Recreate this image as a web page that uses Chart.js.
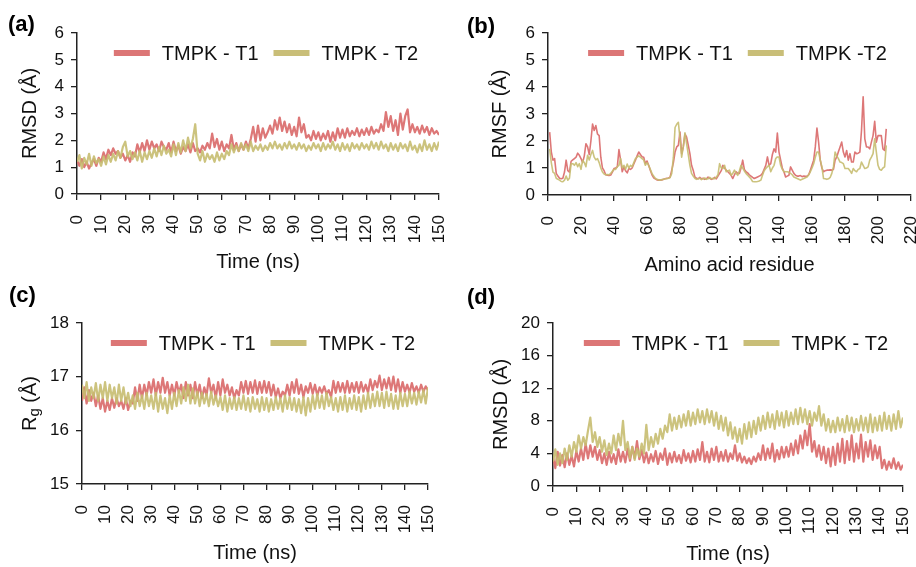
<!DOCTYPE html>
<html>
<head>
<meta charset="utf-8">
<script src="https://cdn.jsdelivr.net/npm/chart.js@4.4.1/dist/chart.umd.min.js"></script>
<style>
  html, body { margin: 0; padding: 0; background: #fff; }
  #wrap { position: relative; width: 916px; height: 567px; }
  canvas { position: absolute; }
</style>
</head>
<body>
<div id="wrap">
  <canvas id="panelA" width="458" height="283" style="left:0;top:0"></canvas>
  <canvas id="panelB" width="458" height="283" style="left:458px;top:0"></canvas>
  <canvas id="panelC" width="458" height="284" style="left:0;top:283px"></canvas>
  <canvas id="panelD" width="458" height="284" style="left:458px;top:283px"></canvas>
</div>
<script>
const FONT = '"Liberation Sans", Arial, sans-serif';
const RED = 'rgba(219,112,112,0.95)';
const OLIVE = 'rgba(198,188,112,0.9)';
const RED_KEY = '#dc7676';
const OLIVE_KEY = '#c9be78';

// time points, 1 ns apart
const timeNs = Array.from({ length: 151 }, (_, i) => i);
// residue numbers 1..205
const residues = Array.from({ length: 205 }, (_, i) => i + 1);

// (a) backbone RMSD (Å)
const rmsdT1 = [
  1.25, 1.05, 1.3, 1.0, 1.2, 0.95, 1.15, 1.3, 1.05, 1.35,
  1.2, 1.55, 1.3, 1.65, 1.45, 1.7, 1.5, 1.6, 1.35, 1.5,
  1.25, 1.45, 1.2, 1.55, 1.4, 1.85, 1.55, 1.9, 1.6, 2.0,
  1.65, 1.95, 1.7, 1.85, 1.6, 1.95, 1.75, 1.65, 1.9, 1.55,
  1.95, 1.6, 1.8, 1.5, 1.75, 1.6, 1.85, 1.55, 1.9, 1.6,
  1.7, 1.55, 1.8, 1.65, 1.9, 1.7, 2.25, 1.75, 2.05, 1.65,
  1.95, 1.6, 1.85, 1.7, 2.2, 1.65, 1.9, 1.6, 1.85, 1.65,
  1.95, 1.7, 2.05, 2.5, 1.95, 2.55, 2.0, 2.45, 2.1, 2.3,
  2.55, 2.25, 2.75, 2.4, 2.85, 2.35, 2.7, 2.3, 2.6, 2.2,
  2.5, 2.15, 2.85, 2.3, 2.6, 2.1, 2.2, 2.0, 2.35, 2.05,
  2.3, 2.0, 2.25, 2.05, 2.35, 1.95, 2.3, 2.0, 2.45, 2.1,
  2.4, 2.1, 2.45, 2.15, 2.35, 2.2, 2.45, 2.15, 2.4, 2.2,
  2.45, 2.2, 2.5, 2.25, 2.4, 2.3, 2.6, 2.35, 3.05, 2.5,
  2.9, 2.35, 2.75, 2.2, 3.0, 2.4, 2.9, 3.15, 2.3, 2.6,
  2.3, 2.5, 2.25, 2.55, 2.3, 2.5, 2.2, 2.45, 2.25, 2.35, 2.2
];
const rmsdT2 = [
  1.2, 1.45, 0.95, 1.35, 1.1, 1.5, 1.05, 1.4, 1.15, 1.3,
  1.05, 1.4, 1.1, 1.45, 1.2, 1.5, 1.25, 1.6, 1.35, 1.75,
  1.95, 1.4, 1.6, 1.3, 1.55, 1.25, 1.6, 1.2, 1.55, 1.3,
  1.6, 1.35, 1.7, 1.4, 1.75, 1.45, 1.8, 1.5, 1.65, 1.4,
  1.85, 1.45, 1.9, 1.55, 2.0, 1.6, 2.1, 1.7, 2.05, 2.6,
  1.5, 1.25, 1.6, 1.2, 1.5, 1.3, 1.45, 1.2, 1.55, 1.25,
  1.5, 1.3, 1.6, 1.45, 1.85, 1.55, 1.8, 1.6, 1.9, 1.65,
  1.85, 1.6, 1.95, 1.6, 1.8, 1.65, 1.85, 1.6, 1.8, 1.65,
  1.9, 1.7, 1.95, 1.7, 1.85, 1.65, 1.9, 1.7, 1.95, 1.7,
  1.85, 1.65, 1.9, 1.7, 1.85, 1.6, 1.8, 1.65, 1.9, 1.7,
  1.85, 1.6, 1.9, 1.65, 1.85, 1.7, 1.95, 1.65, 1.85, 1.6,
  1.9, 1.65, 1.85, 1.6, 1.9, 1.7, 1.85, 1.65, 1.9, 1.7,
  1.85, 1.65, 1.95, 1.7, 1.9, 1.65, 1.95, 1.7, 1.85, 1.6,
  1.9, 1.65, 1.85, 1.6, 1.9, 1.7, 1.85, 1.6, 1.95, 1.65,
  1.8, 1.55, 1.85, 1.6, 2.0, 1.65, 1.85, 1.6, 1.9, 1.65, 1.95
];

// (b) RMSF per residue (Å)
const rmsfT1 = [
  2.33, 1.6, 1.29, 1.35, 0.8, 0.7, 0.62, 0.6, 0.62, 0.85,
  1.29, 0.9, 0.85, 1.25, 1.3, 1.35, 1.4, 1.55, 1.47, 1.35,
  1.2, 1.45, 1.9, 1.78, 1.5, 2.0, 2.63, 2.39, 2.57, 2.26,
  2.2, 1.4, 1.0, 0.9, 0.75, 0.73, 0.72, 0.74, 0.85, 0.98,
  1.0, 1.04, 1.68, 1.29, 0.86, 1.04, 0.9, 0.82, 0.98, 0.95,
  1.0, 1.15, 1.29, 1.45, 1.59, 1.5, 1.42, 1.4, 1.16, 1.26,
  1.1, 0.92, 0.75, 0.64, 0.6, 0.56, 0.55, 0.55, 0.56, 0.58,
  0.6, 0.62, 0.63, 0.66, 0.92, 1.2, 1.59, 1.78, 1.84, 2.33,
  1.53, 1.78, 2.26, 2.14, 1.85, 1.53, 1.1, 0.92, 0.67, 0.62,
  0.6, 0.65, 0.6, 0.62, 0.58, 0.6, 0.66, 0.62, 0.58, 0.6,
  0.65, 0.6, 0.7, 0.8, 0.9, 1.1, 1.0, 0.92, 0.86, 0.8,
  0.73, 0.61, 0.75, 0.86, 0.8, 0.8, 1.0, 1.29, 0.95, 0.86,
  0.82, 0.75, 0.7, 0.65, 0.61, 0.64, 0.67, 0.7, 0.73, 0.8,
  0.95, 1.1, 1.41, 1.1, 1.16, 1.5, 1.71, 1.59, 2.29, 1.59,
  1.29, 1.0, 0.86, 0.67, 0.7, 0.73, 1.04, 0.92, 0.8, 0.73,
  0.7, 0.7, 0.72, 0.68, 0.7, 0.69, 0.7, 0.75, 0.92, 1.1,
  1.29, 1.78, 2.48, 1.96, 1.29, 1.0, 0.86, 0.9, 0.92, 0.92,
  0.93, 0.92, 0.95, 1.29, 1.41, 1.6, 1.78, 1.96, 1.59, 1.41,
  1.65, 1.29, 1.53, 1.22, 1.22, 1.59, 1.53, 1.55, 1.59, 2.39,
  3.64, 2.08, 1.78, 1.78, 1.71, 1.96, 2.2, 2.73, 1.96, 2.2,
  2.2, 2.2, 1.71, 1.65, 2.45
];
const rmsfT2 = [
  1.71, 1.2, 0.85, 0.8, 0.62, 0.58, 0.55, 0.5, 0.49, 0.55,
  0.7, 0.55, 0.62, 1.16, 1.16, 1.1, 1.2, 1.05, 1.16, 0.95,
  1.29, 1.2, 1.05, 1.47, 1.3, 1.5, 1.65, 1.4, 1.3, 1.35,
  1.2, 1.0, 0.85, 0.78, 0.75, 0.76, 0.75, 0.8, 0.88, 0.95,
  0.95, 1.05, 1.1, 1.35, 1.0, 1.1, 0.95, 1.15, 1.0, 1.1,
  1.05, 1.2, 1.35, 1.4, 1.45, 1.4, 1.35, 1.3, 1.1, 1.2,
  1.1, 0.95, 0.8, 0.7, 0.62, 0.58, 0.56, 0.55, 0.57, 0.58,
  0.6, 0.6, 0.62, 0.65, 0.8, 1.4, 2.5, 2.62, 2.69, 2.1,
  1.4, 1.8, 2.3, 1.9, 1.5, 1.1, 0.8, 0.7, 0.62, 0.58,
  0.6, 0.62, 0.57, 0.6, 0.63, 0.58, 0.6, 0.65, 0.6, 0.62,
  0.6, 0.66, 0.75, 1.16, 1.0, 0.98, 1.1, 0.86, 0.9, 0.92,
  0.73, 0.8, 0.92, 0.8, 0.73, 0.9, 1.1, 1.0, 0.89, 0.8,
  0.73, 0.67, 0.6, 0.5, 0.49, 0.49, 0.5, 0.52, 0.55, 0.73,
  0.9, 0.98, 1.05, 1.1, 0.86, 1.0, 1.1, 1.35, 1.41, 1.41,
  1.1, 0.95, 0.86, 0.86, 0.86, 0.84, 0.8, 0.75, 0.67, 0.64,
  0.61, 0.58, 0.55, 0.58, 0.61, 0.64, 0.67, 0.75, 0.86, 1.0,
  1.16, 1.4, 1.59, 1.59, 1.3, 1.04, 0.61, 0.6, 0.58, 0.6,
  0.65, 0.8, 1.04, 1.59, 1.45, 1.35, 1.22, 1.2, 1.16, 0.98,
  0.98, 0.98, 0.9, 0.8, 0.98, 0.9, 0.86, 0.95, 0.98, 1.22,
  1.1, 0.98, 1.0, 1.04, 1.29, 1.4, 1.53, 2.08, 1.59, 1.1,
  0.95, 0.92, 1.0, 1.04, 1.84
];

// (c) radius of gyration (Å)
const rgT1 = [
  16.55, 16.8, 16.5, 16.75, 16.55, 16.7, 16.45, 16.65, 16.4, 16.6,
  16.35, 16.55, 16.38, 16.6, 16.42, 16.6, 16.45, 16.55, 16.4, 16.6,
  16.38, 16.55, 16.5, 16.8, 16.55, 16.85, 16.6, 16.85, 16.65, 16.9,
  16.7, 16.95, 16.65, 16.9, 16.7, 16.98, 16.7, 16.9, 16.65, 16.85,
  16.65, 16.9, 16.7, 16.85, 16.6, 16.9, 16.65, 16.85, 16.6, 16.9,
  16.65, 16.85, 16.6, 16.8, 16.65, 16.97, 16.7, 16.85, 16.6, 16.9,
  16.65, 16.95, 16.7, 16.85, 16.65, 16.8, 16.6, 16.75, 16.65, 16.9,
  16.7, 16.92, 16.68, 16.9, 16.7, 16.93, 16.68, 16.9, 16.7, 16.92,
  16.7, 16.9, 16.65, 16.85, 16.62, 16.78, 16.6, 16.72, 16.65, 16.85,
  16.65, 16.9, 16.7, 16.95, 16.68, 16.85, 16.62, 16.82, 16.7, 16.88,
  16.68, 16.85, 16.65, 16.8, 16.7, 16.82, 16.68, 16.75, 16.62, 16.92,
  16.7, 16.9, 16.72, 16.88, 16.7, 16.92, 16.7, 16.88, 16.72, 16.9,
  16.7, 16.9, 16.72, 16.85, 16.7, 16.95, 16.75, 16.92, 16.8, 17.02,
  16.75, 16.95, 16.78, 16.98, 16.75, 17.0, 16.72, 16.95, 16.7, 16.9,
  16.72, 16.85, 16.7, 16.88, 16.72, 16.82, 16.7, 16.85, 16.72, 16.82, 16.75
];
const rgT2 = [
  16.85, 16.6, 16.9, 16.55, 16.8, 16.6, 16.88, 16.55, 16.85, 16.6,
  16.9, 16.55, 16.85, 16.6, 16.8, 16.5, 16.85, 16.55, 16.8, 16.5,
  16.7, 16.45, 16.65, 16.4, 16.7, 16.45, 16.65, 16.4, 16.7, 16.45,
  16.65, 16.4, 16.7, 16.35, 16.65, 16.4, 16.6, 16.32, 16.65, 16.4,
  16.7, 16.45, 16.75, 16.5, 16.8, 16.55, 16.85, 16.5, 16.78, 16.5,
  16.72, 16.45, 16.7, 16.5, 16.68, 16.45, 16.72, 16.48, 16.65, 16.45,
  16.62, 16.38, 16.65, 16.35, 16.6, 16.4, 16.62, 16.38, 16.6, 16.4,
  16.65, 16.38, 16.6, 16.35, 16.62, 16.4, 16.58, 16.35, 16.62, 16.38,
  16.6, 16.35, 16.58, 16.38, 16.62, 16.4, 16.6, 16.35, 16.65, 16.4,
  16.62, 16.38, 16.6, 16.35, 16.58, 16.32, 16.62, 16.28, 16.6, 16.35,
  16.65, 16.4, 16.68, 16.42, 16.65, 16.4, 16.7, 16.45, 16.62, 16.38,
  16.6, 16.35, 16.62, 16.38, 16.65, 16.35, 16.6, 16.4, 16.65, 16.38,
  16.62, 16.35, 16.65, 16.4, 16.7, 16.42, 16.68, 16.45, 16.72, 16.45,
  16.7, 16.42, 16.72, 16.45, 16.68, 16.4, 16.65, 16.4, 16.7, 16.45,
  16.68, 16.45, 16.72, 16.5, 16.7, 16.48, 16.72, 16.52, 16.75, 16.5, 16.8
];

// (d) ligand RMSD (Å)
const ligT1 = [
  3.5, 2.2, 4.2, 2.5, 3.8, 2.3, 4.0, 2.6, 3.7, 2.4,
  4.3, 3.0, 4.6, 3.2, 5.2, 3.4, 5.0, 3.6, 4.8, 3.2,
  4.4, 2.8, 4.0, 2.6, 4.2, 2.9, 3.9, 2.7, 4.5, 3.0,
  4.2, 2.9, 4.6, 3.1, 4.8, 3.4, 5.5, 3.3, 4.4, 2.9,
  4.1, 2.8, 3.9, 3.0, 4.3, 2.7, 4.0, 3.2, 4.6, 2.6,
  4.0, 2.9, 4.2, 3.0, 3.8, 2.8, 4.4, 3.1, 4.0, 2.9,
  4.3, 3.0, 4.5, 3.2, 5.4, 3.0, 4.2, 2.9, 4.6, 3.2,
  4.8, 3.0, 4.2, 3.1, 4.4, 3.0, 4.0, 3.3, 5.0, 3.1,
  4.0, 2.9, 3.6, 2.8, 3.4, 2.7, 3.6, 3.0, 4.0, 3.2,
  5.0, 3.2, 4.6, 3.4, 5.2, 3.0, 4.4, 3.3, 4.8, 3.5,
  4.8, 3.6, 5.2, 3.8, 5.6, 4.0, 6.2, 4.6, 6.8, 5.0,
  7.6, 4.2, 5.5, 3.6, 5.0, 3.2, 4.8, 2.8, 4.6, 2.4,
  4.8, 2.6, 5.2, 3.0, 5.8, 2.8, 5.5, 3.2, 6.2, 3.0,
  5.2, 3.4, 6.3, 3.0, 5.4, 3.6, 5.6, 3.2, 5.0, 3.4,
  4.8, 2.2, 3.2, 2.0, 3.0, 2.2, 3.4, 2.1, 2.9, 2.0, 2.6
];
const ligT2 = [
  3.0, 4.5, 2.6, 4.0, 2.8, 4.6, 3.2, 5.0, 3.6, 5.4,
  4.2, 6.2, 4.6, 6.0, 5.0, 6.8, 8.4, 5.4, 6.6, 4.8,
  6.0, 4.2, 5.6, 3.8, 5.2, 4.0, 6.2, 4.4, 6.4, 5.0,
  8.0, 4.4, 5.4, 3.4, 4.8, 3.2, 4.6, 3.6, 5.2, 4.0,
  7.5, 4.4, 6.0, 4.8, 6.4, 5.2, 7.0, 5.8, 7.4, 6.6,
  8.8, 6.8, 8.4, 7.0, 8.6, 7.2, 8.8, 7.4, 9.2, 7.4,
  9.0, 7.6, 9.4, 7.8, 9.2, 7.6, 9.4, 7.8, 9.2, 7.4,
  9.0, 7.0, 8.6, 6.8, 8.4, 6.2, 7.8, 5.8, 7.2, 5.4,
  7.0, 5.2, 7.6, 5.8, 7.8, 6.0, 8.0, 6.4, 8.4, 6.8,
  8.6, 7.0, 9.0, 7.2, 8.8, 7.0, 9.2, 7.4, 9.0, 7.2,
  9.2, 7.4, 9.0, 7.6, 9.4, 7.6, 9.6, 7.8, 9.4, 7.6,
  9.2, 7.4, 9.0, 8.0, 9.8, 7.4, 8.8, 6.8, 8.2, 6.6,
  8.0, 6.6, 8.4, 6.8, 8.2, 6.6, 8.6, 6.8, 8.4, 6.6,
  8.2, 6.8, 8.6, 6.8, 8.4, 6.6, 8.8, 6.6, 8.4, 6.8,
  8.6, 6.8, 9.0, 7.0, 8.6, 6.8, 8.8, 7.0, 9.2, 7.2, 8.4
];

// panel letter in the corner
const panelTag = {
  id: 'panelTag',
  afterDraw(chart, args, opts) {
    const ctx = chart.ctx;
    ctx.save();
    ctx.font = 'bold 22px ' + FONT;
    ctx.fillStyle = '#000';
    ctx.textBaseline = 'alphabetic';
    ctx.fillText(opts.text, opts.x, opts.y);
    ctx.restore();
  }
};

// legend drawn inside the plot area, line swatches
const lineKey = {
  id: 'lineKey',
  afterDatasetsDraw(chart) {
    const { ctx, chartArea } = chart;
    const sets = chart.data.datasets.slice().sort((a, b) => a.keyIndex - b.keyIndex);
    ctx.save();
    ctx.font = '20px ' + FONT;
    const boxW = 36, gapText = 12, gapItem = 15;
    const widths = sets.map(d => ctx.measureText(d.label).width);
    const total = widths.reduce((a, w) => a + boxW + gapText + w, 0) + gapItem * (sets.length - 1);
    let x = (chartArea.left + chartArea.right) / 2 - total / 2 + 8;
    const y = chartArea.top + 20;
    sets.forEach((d, i) => {
      ctx.fillStyle = d.keyColor;
      ctx.fillRect(x, y - 3, boxW, 6);
      x += boxW + gapText;
      ctx.fillStyle = '#111';
      ctx.textBaseline = 'middle';
      ctx.fillText(d.label, x, y + 1);
      x += widths[i] + gapItem;
    });
    ctx.restore();
  }
};

// R with subscript g, for panel (c)
const rgTitle = {
  id: 'rgTitle',
  afterDraw(chart, args, opts) {
    if (!opts.on) return;
    const { ctx, chartArea } = chart;
    ctx.save();
    ctx.translate(opts.x, (chartArea.top + chartArea.bottom) / 2);
    ctx.rotate(-Math.PI / 2);
    ctx.fillStyle = '#111';
    ctx.textBaseline = 'middle';
    const big = '20px ' + FONT, small = '15px ' + FONT;
    ctx.font = big;
    const wR = ctx.measureText('R').width, wRest = ctx.measureText(' (Å)').width;
    ctx.font = small;
    const wg = ctx.measureText('g').width;
    let x = -(wR + wg + wRest) / 2;
    ctx.font = big;
    ctx.fillText('R', x, 0);
    x += wR;
    ctx.font = small;
    ctx.fillText('g', x, 5);
    x += wg;
    ctx.font = big;
    ctx.fillText(' (Å)', x, 0);
    ctx.restore();
  }
};

function buildPanel(id, cfg) {
  const datasets = cfg.series.map((s, i) => ({
    label: s.label,
    data: cfg.xs.map((x, j) => ({ x: x, y: s.values[j] })),
    borderColor: s.color,
    backgroundColor: s.color,
    keyColor: s.keyColor,
    keyIndex: i,
    order: s.order,
    borderWidth: cfg.lineWidth,
    borderJoinStyle: 'round',
    pointRadius: 0,
    tension: 0,
    fill: false
  }));
  const axisLine = { display: true, color: '#222', width: 1.5 };
  const tickMarks = { drawOnChartArea: false, drawTicks: true, tickLength: 6, color: '#222', lineWidth: 1.3 };
  return new Chart(document.getElementById(id), {
    type: 'line',
    data: { datasets },
    options: {
      responsive: false,
      animation: false,
      events: [],
      layout: { padding: { left: 0, top: cfg.top, right: cfg.right, bottom: 0 } },
      plugins: {
        legend: { display: false },
        tooltip: { enabled: false },
        panelTag: cfg.tag,
        rgTitle: cfg.rgTitle || { on: false }
      },
      scales: {
        x: {
          type: 'linear',
          min: cfg.xMin,
          max: cfg.xMax,
          afterFit: s => { s.height = cfg.xHeight; s.paddingLeft = 0; s.paddingRight = 0; },
          ticks: {
            stepSize: cfg.xStep, autoSkip: false, maxRotation: 90, minRotation: 90,
            padding: 15, color: '#111', font: { family: FONT, size: 17 }
          },
          grid: tickMarks,
          border: axisLine,
          title: {
            display: true, text: cfg.xTitle, color: '#111',
            font: { family: FONT, size: 20 }, padding: { top: 0, bottom: cfg.xTitlePad }
          }
        },
        y: {
          min: cfg.yMin,
          max: cfg.yMax,
          afterFit: s => { s.width = cfg.yWidth; s.paddingTop = 0; s.paddingBottom = 0; },
          ticks: { stepSize: cfg.yStep, padding: 7, color: '#111', font: { family: FONT, size: 17 } },
          grid: tickMarks,
          border: axisLine,
          title: {
            display: !cfg.rgTitle, text: cfg.yTitle, color: '#111',
            font: { family: FONT, size: 20 }, padding: { top: cfg.yTitlePad, bottom: 0 }
          }
        }
      }
    },
    plugins: [panelTag, lineKey, rgTitle]
  });
}

buildPanel('panelA', {
  xs: timeNs, xMin: 0, xMax: 150, xStep: 10, yMin: 0, yMax: 6, yStep: 1,
  top: 33, right: 19, yWidth: 77, xHeight: 89, lineWidth: 2.2,
  xTitle: 'Time (ns)', xTitlePad: 9, yTitle: 'RMSD (Å)', yTitlePad: 18,
  tag: { text: '(a)', x: 8, y: 31 },
  series: [
    { label: 'TMPK - T1', values: rmsdT1, color: RED, keyColor: RED_KEY, order: 1 },
    { label: 'TMPK - T2', values: rmsdT2, color: OLIVE, keyColor: OLIVE_KEY, order: 0 }
  ]
});

buildPanel('panelB', {
  xs: residues, xMin: 0, xMax: 220, xStep: 20, yMin: 0, yMax: 6, yStep: 1,
  top: 33, right: 5, yWidth: 90, xHeight: 88, lineWidth: 1.6,
  xTitle: 'Amino acid residue', xTitlePad: 6, yTitle: 'RMSF (Å)', yTitlePad: 30,
  tag: { text: '(b)', x: 9, y: 33 },
  series: [
    { label: 'TMPK - T1', values: rmsfT1, color: RED, keyColor: RED_KEY, order: 1 },
    { label: 'TMPK -T2', values: rmsfT2, color: OLIVE, keyColor: OLIVE_KEY, order: 0 }
  ]
});

buildPanel('panelC', {
  xs: timeNs, xMin: 0, xMax: 150, xStep: 10, yMin: 15, yMax: 18, yStep: 1,
  top: 40, right: 30, yWidth: 82, xHeight: 83, lineWidth: 2.2,
  xTitle: 'Time (ns)', xTitlePad: 2, yTitle: 'Rg (Å)', yTitlePad: 18,
  rgTitle: { on: true, x: 30 },
  tag: { text: '(c)', x: 9, y: 19 },
  series: [
    { label: 'TMPK - T1', values: rgT1, color: RED, keyColor: RED_KEY, order: 1 },
    { label: 'TMPK - T2', values: rgT2, color: OLIVE, keyColor: OLIVE_KEY, order: 0 }
  ]
});

buildPanel('panelD', {
  xs: timeNs, xMin: 0, xMax: 150, xStep: 10, yMin: 0, yMax: 20, yStep: 4,
  top: 40, right: 13, yWidth: 95, xHeight: 81, lineWidth: 2.2,
  xTitle: 'Time (ns)', xTitlePad: 1, yTitle: 'RMSD (Å)', yTitlePad: 31,
  tag: { text: '(d)', x: 9, y: 21 },
  series: [
    { label: 'TMPK - T1', values: ligT1, color: RED, keyColor: RED_KEY, order: 1 },
    { label: 'TMPK - T2', values: ligT2, color: OLIVE, keyColor: OLIVE_KEY, order: 0 }
  ]
});
</script>
</body>
</html>
